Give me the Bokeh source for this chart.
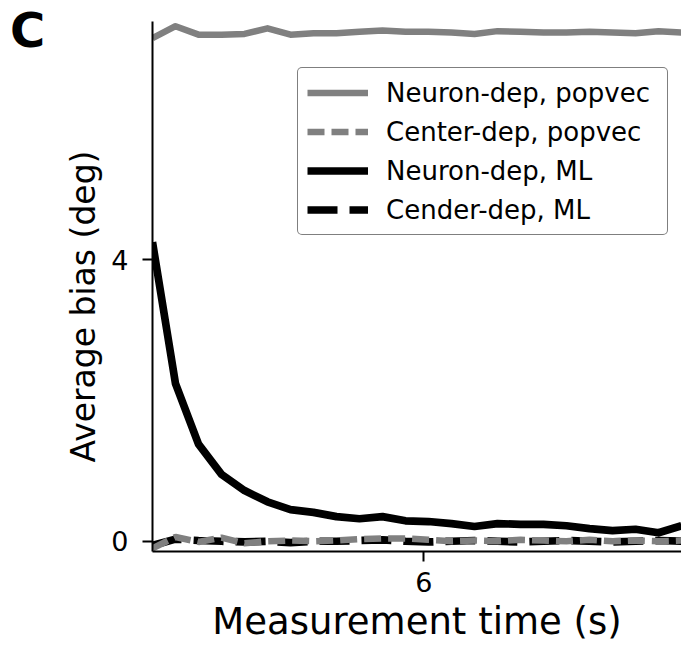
import math
from bokeh.plotting import figure
from bokeh.models import Range1d, FixedTicker, Legend, LegendItem, Label, ColumnDataSource
from bokeh.embed import file_html
from bokeh.resources import INLINE

# ---- data ----
times = [0.1, 0.6, 1.1, 1.6, 2.1, 2.6, 3.1, 3.6, 4.1, 4.6, 5.1, 5.6,
         6.1, 6.6, 7.1, 7.6, 8.1, 8.6, 9.1, 9.6, 10.1, 10.6, 11.1, 11.6]
neuron_dep_popvec = [7.15, 7.32, 7.20, 7.20, 7.21, 7.29, 7.20, 7.22, 7.22, 7.24, 7.26, 7.24,
                     7.24, 7.23, 7.21, 7.25, 7.24, 7.23, 7.23, 7.24, 7.23, 7.22, 7.25, 7.23]
center_dep_popvec = [-0.10, 0.06, -0.01, 0.05, -0.03, 0.00, 0.01, 0.00, 0.01, 0.03, 0.04, 0.04,
                     0.02, 0.00, 0.01, 0.00, 0.02, 0.01, 0.00, 0.02, 0.00, 0.01, 0.00, 0.01]
neuron_dep_ml = [4.25, 2.24, 1.38, 0.95, 0.72, 0.56, 0.45, 0.41, 0.35, 0.32, 0.35, 0.29,
                 0.28, 0.25, 0.21, 0.25, 0.24, 0.24, 0.22, 0.18, 0.15, 0.17, 0.12, 0.22]
center_dep_ml = [-0.06, 0.03, 0.01, 0.00, -0.01, 0.00, -0.02, 0.00, 0.00, 0.01, 0.02, 0.00,
                 -0.01, 0.00, 0.01, 0.00, -0.01, 0.00, 0.01, 0.00, -0.01, 0.00, 0.01, 0.00]
x_ticks = [6]
y_ticks = [0, 4]
series_labels = ["Neuron-dep, popvec", "Center-dep, popvec", "Neuron-dep, ML", "Cender-dep, ML"]
x_title = "Measurement time (s)"
y_title = "Average bias (deg)"
panel_letter = "C"

FONT = "DejaVu Sans"
GRAY = "#808080"

src = ColumnDataSource(dict(t=times, npv=neuron_dep_popvec, cpv=center_dep_popvec,
                            nml=neuron_dep_ml, cml=center_dep_ml))

p = figure(width=681, height=646, output_backend="svg", toolbar_location=None,
           x_range=Range1d(0.1, 11.6), y_range=Range1d(-0.146, 7.387),
           min_border_left=152, min_border_right=0, min_border_top=21, min_border_bottom=95,
           background_fill_color="white", border_fill_color="white")
p.xgrid.visible = False
p.ygrid.visible = False
p.outline_line_color = None

for ax in (p.xaxis[0], p.yaxis[0]):
    ax.axis_line_width = 2
    ax.axis_line_color = "black"
    ax.major_tick_line_width = 2
    ax.major_tick_line_color = "black"
    ax.major_tick_out = 10
    ax.major_tick_in = 0
    ax.minor_tick_out = 0
    ax.minor_tick_in = 0
    ax.major_label_text_font = FONT
    ax.major_label_text_font_size = "27px"
    ax.major_label_text_color = "black"

p.xaxis.ticker = FixedTicker(ticks=x_ticks)
p.yaxis.ticker = FixedTicker(ticks=y_ticks)
p.xaxis.major_label_standoff = 10
p.yaxis.major_label_standoff = 14

r1 = p.line("t", "npv", source=src, line_color=GRAY, line_width=6.5, line_join="round")
r3 = p.line("t", "nml", source=src, line_color="black", line_width=7.7, line_join="round")
r4 = p.line("t", "cml", source=src, line_color="black", line_width=7.7, line_dash="30 12")
r2 = p.line("t", "cpv", source=src, line_color=GRAY, line_width=6.5, line_dash="17 7")

legend = Legend(items=[LegendItem(label=series_labels[0], renderers=[r1]),
                       LegendItem(label=series_labels[1], renderers=[r2]),
                       LegendItem(label=series_labels[2], renderers=[r3]),
                       LegendItem(label=series_labels[3], renderers=[r4])],
                location=(145, 316), orientation="vertical",
                label_text_font=FONT, label_text_font_size="26px", label_text_color="black",
                glyph_width=61, glyph_height=31, label_height=31, label_width=272,
                label_standoff=18, spacing=8, padding=9, margin=0,
                border_line_color="black", border_line_width=1.7,
                background_fill_color="white", background_fill_alpha=1.0)
if "border_radius" in Legend.properties():
    legend.border_radius = 5
p.add_layout(legend, "center")

# texts outside the frame go into side panels so they are not clipped to the frame
p.add_layout(Label(x=5.85, y=-1.144, text=x_title, text_align="center",
                   text_baseline="alphabetic", text_font=FONT, text_font_size="37px",
                   text_color="black"), "below")
p.add_layout(Label(x=-1.39, y=3.336, text=y_title, text_align="center", angle=math.pi / 2,
                   text_baseline="alphabetic", text_font=FONT, text_font_size="33px",
                   text_color="black"), "left")
p.add_layout(Label(x=-2.998, y=7.271, text=panel_letter, text_align="left",
                   text_baseline="alphabetic", text_font=FONT, text_font_size="48px",
                   text_font_style="bold", text_color="black"), "left")

open("out.html", "w").write(file_html(p, INLINE))
